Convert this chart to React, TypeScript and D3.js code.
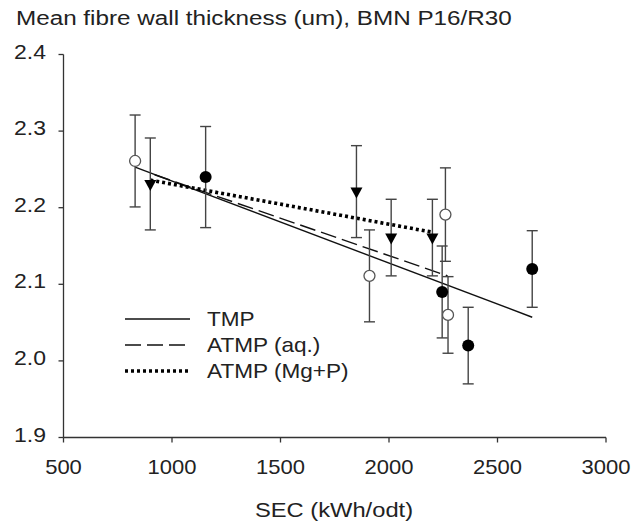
import React from "react";
import * as d3 from "d3";

// markers: SEC (kWh/odt), mean, +/- error
const openSec = [830, 1910, 2260, 2272];
const openMean = [2.261, 2.111, 2.191, 2.06];
const openErr = [0.06, 0.06, 0.061, 0.05];

const filledSec = [1155, 2245, 2365, 2660];
const filledMean = [2.24, 2.09, 2.02, 2.12];
const filledErr = [0.066, 0.06, 0.05, 0.05];

const triSec = [900, 1850, 2010, 2200];
const triMean = [2.231, 2.221, 2.161, 2.161];
const triErr = [0.06, 0.06, 0.05, 0.05];

// trend lines (end points)
const tmpLine = { sec: [830, 2660], val: [2.253, 2.057] };
const aqLine = { sec: [920, 2270], val: [2.243, 2.111] };
const mgLine = { sec: [900, 2200], val: [2.236, 2.168] };

const xTicks = [500, 1000, 1500, 2000, 2500, 3000];
const yTicks = [1.9, 2.0, 2.1, 2.2, 2.3, 2.4];

const legendNames = ["TMP", "ATMP (aq.)", "ATMP (Mg+P)"];

const W = 643;
const H = 526;
const font = "Arial, 'Liberation Sans', sans-serif";

// the source text looks a bit wide, so stretch it horizontally
const T: React.FC<{
  x: number;
  y: number;
  size: number;
  sx?: number;
  anchor?: "start" | "middle" | "end";
  children: React.ReactNode;
}> = ({ x, y, size, sx = 1.13, anchor = "start", children }) => (
  <text
    transform={`translate(${x},${y}) scale(${sx},1)`}
    textAnchor={anchor}
    fontFamily={font}
    fontSize={size}
    fill="#222"
  >
    {children}
  </text>
);

const App: React.FC = () => {
  const x = d3.scaleLinear().domain([500, 3000]).range([63.5, 606]);
  const y = d3.scaleLinear().domain([1.9, 2.4]).range([437.5, 54.5]);

  const line = d3
    .line<[number, number]>()
    .x((d) => x(d[0]))
    .y((d) => y(d[1]));

  const pts = (s: { sec: number[]; val: number[] }) =>
    s.sec.map((v, i) => [v, s.val[i]] as [number, number]);

  const lineStyles = [
    { stroke: "#111", width: 1.4, dash: undefined as string | undefined },
    { stroke: "#111", width: 1.4, dash: "16 6" },
    { stroke: "#000", width: 3.6, dash: "3 3" },
  ];
  const lines = [tmpLine, aqLine, mgLine];

  const errBars = (secs: number[], means: number[], errs: number[], key: string) =>
    secs.map((s, i) => {
      const cx = x(s);
      const t = y(means[i] + errs[i]);
      const b = y(means[i] - errs[i]);
      return (
        <g key={key + i} stroke="#444" strokeWidth={1.4}>
          <line x1={cx} x2={cx} y1={t} y2={b} />
          <line x1={cx - 5.5} x2={cx + 5.5} y1={t} y2={t} />
          <line x1={cx - 5.5} x2={cx + 5.5} y1={b} y2={b} />
        </g>
      );
    });

  return (
    <svg width={W} height={H} style={{ position: "absolute", left: 0, top: 0 }}>
      <rect width={W} height={H} fill="#fff" />
      <T x={16} y={25} size={21} sx={1.155}>
        Mean fibre wall thickness (um), BMN P16/R30
      </T>

      {/* axes */}
      <g stroke="#333" strokeWidth={1.3}>
        <line x1={x(500)} x2={x(3000)} y1={y(1.9)} y2={y(1.9)} />
        <line x1={x(500)} x2={x(500)} y1={y(1.9)} y2={y(2.4)} />
        {xTicks.map((t) => (
          <line key={"xt" + t} x1={x(t)} x2={x(t)} y1={y(1.9)} y2={y(1.9) + 5} />
        ))}
        {yTicks.map((t) => (
          <line key={"yt" + t} x1={x(500) - 5} x2={x(500)} y1={y(t)} y2={y(t)} />
        ))}
      </g>
      {xTicks.map((t) => (
        <T key={"xl" + t} x={x(t)} y={474} size={20} sx={1.1} anchor="middle">
          {t}
        </T>
      ))}
      {yTicks.map((t) => (
        <T key={"yl" + t} x={46} y={y(t) + 4} size={20} sx={1.15} anchor="end">
          {d3.format(".1f")(t)}
        </T>
      ))}
      <T x={334} y={517} size={21} anchor="middle">
        SEC (kWh/odt)
      </T>

      {/* trend lines */}
      {lines.map((l, i) => (
        <path
          key={"ln" + i}
          d={line(pts(l)) || ""}
          fill="none"
          stroke={lineStyles[i].stroke}
          strokeWidth={lineStyles[i].width}
          strokeDasharray={lineStyles[i].dash}
        />
      ))}

      {/* error bars */}
      {errBars(openSec, openMean, openErr, "eo")}
      {errBars(filledSec, filledMean, filledErr, "ef")}
      {errBars(triSec, triMean, triErr, "et")}

      {/* markers */}
      {openSec.map((s, i) => (
        <circle
          key={"o" + i}
          cx={x(s)}
          cy={y(openMean[i])}
          r={5.5}
          fill="#fff"
          stroke="#555"
          strokeWidth={1.3}
        />
      ))}
      {filledSec.map((s, i) => (
        <circle key={"f" + i} cx={x(s)} cy={y(filledMean[i])} r={6} fill="#000" />
      ))}
      {triSec.map((s, i) => {
        const cx = x(s);
        const cy = y(triMean[i]);
        return (
          <path
            key={"t" + i}
            d={`M${cx - 6},${cy - 4} L${cx + 6},${cy - 4} L${cx},${cy + 7} Z`}
            fill="#000"
          />
        );
      })}

      {/* legend */}
      {legendNames.map((n, i) => {
        const ly = 319 + i * 26;
        return (
          <g key={"lg" + i}>
            <line
              x1={125}
              x2={190}
              y1={ly}
              y2={ly}
              stroke={lineStyles[i].stroke}
              strokeWidth={lineStyles[i].width}
              strokeDasharray={lineStyles[i].dash}
            />
            <T x={207} y={ly + 7} size={20}>
              {n}
            </T>
          </g>
        );
      })}
    </svg>
  );
};

export default App;
